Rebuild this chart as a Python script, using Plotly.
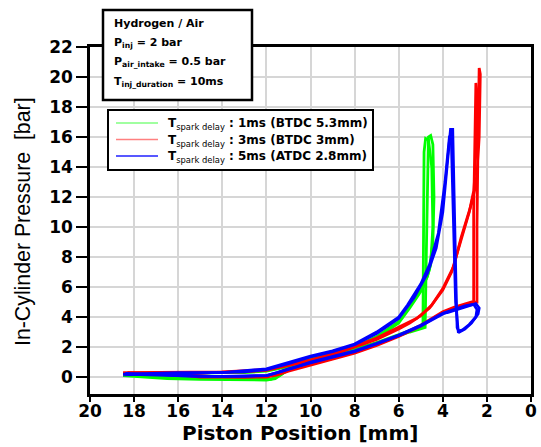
import plotly.graph_objects as go

# ---- data (piston position [mm], pressure [bar]) ----
green_c1_x = [18.5, 17.5, 16.5, 15, 14, 13, 12, 11.6, 11.2, 10.8, 10, 9, 8, 7, 6, 5.5, 4.8,
              4.75, 4.7, 4.65, 4.55, 4.45, 4.4, 4.45, 4.6,
              4.8, 5.0, 5.5, 6, 7, 8, 9, 10, 11, 12, 13, 14, 15, 16, 17, 18.5]
green_c1_y = [0.1, 0.0, -0.1, -0.15, -0.15, -0.2, -0.2, -0.1, 0.3, 0.7, 1.0, 1.35, 1.8, 2.25, 2.75, 3.0, 3.3,
              8, 14, 16.0, 16.1, 15.5, 12, 9, 7.2,
              6.3, 5.7, 4.6, 3.6, 2.6, 1.9, 1.5, 1.2, 0.7, 0.4, 0.3, 0.3, 0.25, 0.25, 0.2, 0.2]
green_c2_x = [18.4, 17, 16, 14, 12.5, 11.8, 11.4, 11.0, 10.5, 10, 9, 8, 7, 6, 5.3, 4.9,
              4.88, 4.85, 4.78, 4.65, 4.5, 4.45, 4.55, 4.7,
              5.0, 5.5, 6, 7, 8, 9, 10, 11, 12, 14, 16, 18.4]
green_c2_y = [0.2, 0.05, -0.05, -0.1, -0.15, -0.15, 0.1, 0.5, 0.85, 1.05, 1.4, 1.85, 2.3, 2.85, 3.2, 3.4,
              9, 15, 15.9, 15.8, 14, 10, 7.5, 6.7,
              5.8, 4.7, 3.7, 2.7, 2.0, 1.55, 1.25, 0.75, 0.45, 0.3, 0.3, 0.25]

red_c1_x = [18.5, 17.5, 16.5, 15, 14, 13, 12, 11.5, 11, 10, 9, 8, 7, 6, 5, 4, 3.5, 3, 2.6, 2.45,
            2.45, 2.4, 2.35, 2.3, 2.35, 2.45, 2.55,
            2.75, 3.17, 3.5, 4.0, 4.5, 5.0, 5.5, 6, 7, 8, 9, 10, 11, 12, 13, 14, 15, 16, 17, 18.5]
red_c1_y = [0.3, 0.3, 0.25, 0.0, 0.0, -0.05, 0.0, 0.15, 0.4, 0.8, 1.2, 1.6, 2.1, 2.7, 3.4, 4.3, 4.6, 4.85, 5.0, 5.0,
            10, 16, 20.6, 20.2, 16, 13.5, 12.5,
            11.3, 9.3, 7.4, 5.9, 4.8, 4.1, 3.6, 3.2, 2.5, 2.0, 1.5, 1.1, 0.75, 0.45, 0.35, 0.3, 0.3, 0.3, 0.3, 0.2]
red_c2_x = [18.3, 17, 16, 14.5, 13, 12, 11.6, 11.2, 10.5, 10, 9, 8, 7, 6, 5, 4, 3.5, 3, 2.7, 2.6,
            2.6, 2.55, 2.5, 2.45, 2.5, 2.6,
            2.8, 3.2, 3.6, 4.0, 4.6, 5.2, 6, 7, 8, 9, 10, 11, 12, 14, 16, 18.3]
red_c2_y = [0.2, 0.25, 0.2, 0.05, 0.0, 0.05, 0.2, 0.45, 0.7, 0.85, 1.25, 1.65, 2.15, 2.75, 3.45, 4.35, 4.65, 4.9, 5.05, 5.05,
            11, 17, 19.6, 19.0, 15, 12.4,
            11.0, 9.0, 7.0, 5.8, 4.6, 3.9, 3.3, 2.6, 2.05, 1.55, 1.15, 0.8, 0.5, 0.35, 0.35, 0.3]

blue_c1_x = [18.5, 17.5, 16.5, 15, 14, 13, 12, 11.5, 11, 10, 9, 8, 7, 6, 5, 4, 3.8, 3.0, 2.5, 2.35,
             2.4, 2.7, 3.0, 3.25, 3.35, 3.4, 3.45, 3.5, 3.55, 3.65,
             3.8, 4.0, 4.3, 4.7, 5.3, 6, 7, 8, 9, 10, 11, 12, 13, 14, 15, 16, 17, 18.5]
blue_c1_y = [0.2, 0.15, 0.1, 0.05, 0.05, 0.05, 0.1, 0.3, 0.55, 0.95, 1.3, 1.7, 2.2, 2.75, 3.4, 4.2, 4.3, 4.7, 4.9, 4.6,
             4.2, 3.6, 3.2, 3.0, 3.3, 6, 10, 14, 16.5, 16.5,
             14, 11, 8.6, 6.9, 5.3, 3.9, 2.9, 2.15, 1.7, 1.35, 0.9, 0.5, 0.35, 0.3, 0.25, 0.25, 0.2, 0.15]
blue_c2_x = [18.4, 17, 16, 14.5, 13, 12, 11.4, 10.8, 10, 9, 8, 7, 6, 5, 4, 3.6, 3.0, 2.6, 2.45,
             2.5, 2.8, 3.1, 3.3, 3.42, 3.5, 3.55, 3.62, 3.7,
             3.9, 4.2, 4.6, 5.0, 5.6, 6, 7, 8, 9, 10, 11, 12, 14, 16, 18.4]
blue_c2_y = [0.25, 0.2, 0.1, 0.05, 0.05, 0.1, 0.35, 0.6, 1.0, 1.35, 1.75, 2.25, 2.8, 3.45, 4.25, 4.45, 4.75, 4.85, 4.5,
             4.0, 3.5, 3.15, 3.05, 5, 9, 13, 16.2, 16.0,
             13.0, 9.6, 7.5, 6.2, 4.8, 4.0, 3.0, 2.2, 1.75, 1.4, 0.95, 0.55, 0.3, 0.3, 0.2]

legend_labels = [
    "1ms (BTDC 5.3mm)",
    "3ms (BTDC 3mm)",
    "5ms (ATDC 2.8mm)",
]
curve_colors = ["#00ff00", "#ff0000", "#0000ff"]
legend_colors = ["#80ff80", "#ff8080", "#2020ff"]
cycles = [
    [(green_c1_x, green_c1_y), (green_c2_x, green_c2_y)],
    [(red_c1_x, red_c1_y), (red_c2_x, red_c2_y)],
    [(blue_c1_x, blue_c1_y), (blue_c2_x, blue_c2_y)],
]

x_ticks = [20, 18, 16, 14, 12, 10, 8, 6, 4, 2, 0]
y_ticks = [0, 2, 4, 6, 8, 10, 12, 14, 16, 18, 20, 22]

x_title = "Piston Position [mm]"
y_title = "In-Cylinder Pressure  [bar]"
info_lines = [
    "Hydrogen / Air",
    "P<sub>inj</sub> = 2 bar",
    "P<sub>air_intake</sub> = 0.5 bar",
    "T<sub>inj_duration</sub> = 10ms",
]

fig = go.Figure()
for lab, color, cyc in zip(legend_labels, curve_colors, cycles):
    name = "T<sub>spark delay</sub> : " + lab
    for cx, cy in cyc:
        fig.add_trace(go.Scatter(x=cx, y=cy, mode="lines", name=name, legendgroup=name,
                                 showlegend=False, line=dict(color=color, width=2.8)))

W, H = 541, 447
L, R, T, B = 90, 10, 47, 53
PW, PH = W - L - R, H - T - B


def px(xp):
    return (xp - L) / PW


def py(yp):
    return (H - B - yp) / PH


FONT = "DejaVu Sans, Verdana, sans-serif"

axis_common = dict(
    showline=True, linecolor="black", linewidth=2.5, mirror=True,
    ticks="outside", tickwidth=1.5, tickcolor="black",
    showgrid=True, gridcolor="#d6d6d6", gridwidth=1.5, zeroline=False, automargin=False,
    tickfont=dict(family=FONT, size=17, color="black", weight="bold"),
)

fig.update_layout(
    width=W, height=H,
    margin=dict(l=L, r=R, t=T, b=B, pad=0),
    paper_bgcolor="white", plot_bgcolor="white",
    showlegend=False,
    xaxis=dict(range=[20, 0], tickvals=x_ticks, ticktext=[str(v) for v in x_ticks], ticklen=5,
               ticklabelstandoff=-5, **axis_common),
    yaxis=dict(range=[-1.13, 22], tickvals=y_ticks, ticktext=[str(v) for v in y_ticks], ticklen=11,
               **axis_common),
)

# axis titles
fig.add_annotation(xref="paper", yref="paper", x=px(300), y=py(446.5), xanchor="center", yanchor="bottom",
                   showarrow=False, text="<b>" + x_title + "</b>", borderpad=0,
                   font=dict(family=FONT, size=20, color="black"))
fig.add_annotation(xref="paper", yref="paper", x=px(23), y=py(222), xanchor="center", yanchor="middle",
                   showarrow=False, text=y_title, textangle=-90,
                   font=dict(family="Liberation Sans, Arial", size=21.3, color="black"))

# info box (text block above the curves)
fig.add_shape(type="rect", xref="paper", yref="paper",
              x0=px(103), x1=px(252), y0=py(100), y1=py(10),
              line=dict(color="black", width=2.5), fillcolor="white", layer="above")
for txt, yp in zip(info_lines, [24, 43, 62, 82]):
    fig.add_annotation(xref="paper", yref="paper", x=px(112), y=py(yp),
                       xanchor="left", yanchor="middle", showarrow=False, text="<b>" + txt + "</b>",
                       font=dict(family=FONT, size=11, color="black"))

# legend box
fig.add_shape(type="rect", xref="paper", yref="paper",
              x0=px(108), x1=px(373), y0=py(170), y1=py(110),
              line=dict(color="black", width=2), fillcolor="white", layer="above")
for lab, lc, yp in zip(legend_labels, legend_colors, [123, 139.5, 156]):
    fig.add_shape(type="line", xref="paper", yref="paper",
                  x0=px(116), x1=px(158), y0=py(yp), y1=py(yp),
                  line=dict(color=lc, width=1.5), layer="above")
    fig.add_annotation(xref="paper", yref="paper", x=px(166), y=py(yp + 1),
                       xanchor="left", yanchor="middle", showarrow=False,
                       text="<b>T</b><sub>spark delay</sub><b> : " + lab + "</b>",
                       font=dict(family=FONT, size=12, color="black"))

fig.write_html("out.html")
